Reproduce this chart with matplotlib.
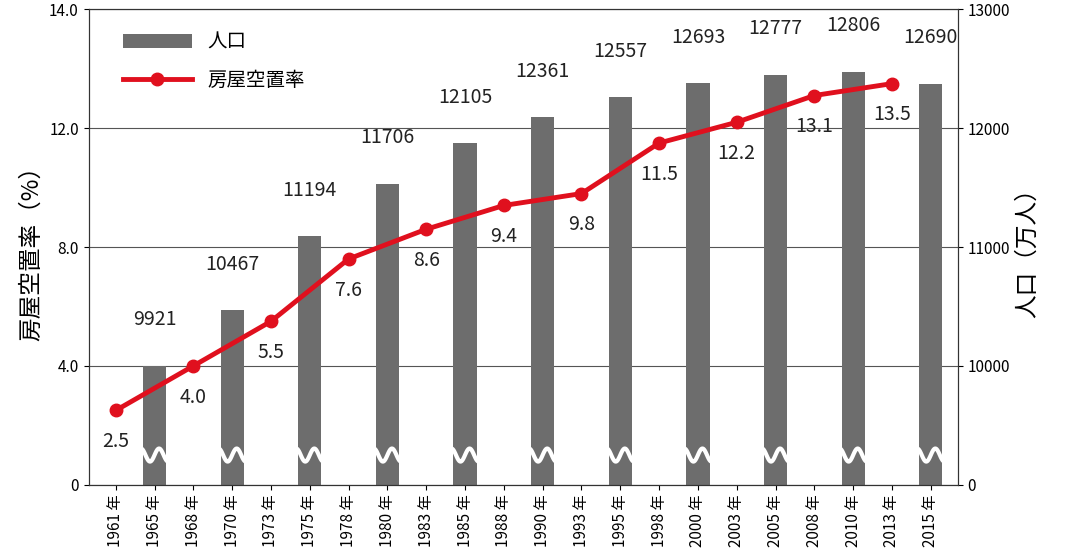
import matplotlib
matplotlib.use("Agg")
import matplotlib.pyplot as plt
import numpy as np
plt.rcParams['font.family'] = ['Noto Sans CJK JP', 'DejaVu Sans']

years = ["1961","1965","1968","1970","1973","1975","1978","1980","1983","1985",
         "1988","1990","1993","1995","1998","2000","2003","2005","2008","2010","2013","2015"]
bar_years = ["1965","1970","1975","1980","1985","1990","1995","2000","2005","2010","2015"]
population = [9921,10467,11194,11706,12105,12361,12557,12693,12777,12806,12690]
rate_years = ["1961","1968","1973","1978","1983","1988","1993","1998","2003","2008","2013"]
vacancy = [2.5,4.0,5.5,7.6,8.6,9.4,9.8,11.5,12.2,13.1,13.5]
left_ticks = ["0","4.0","8.0","12.0","14.0"]
right_ticks = ["0","10000","11000","12000","13000"]

def pop_to_axis(p):
    # broken (compressed) bar scale as drawn in the original
    return 4 + (p - 9921) * 0.00343

fig = plt.figure(figsize=(10.8, 5.49), dpi=100)
ax = fig.add_axes([0.082, 0.117, 0.805, 0.866])
idx = {y: i for i, y in enumerate(years)}
bx = [idx[y] for y in bar_years]
bh = [pop_to_axis(p) for p in population]
ax.bar(bx, bh, width=0.6, color='#6d6d6d', zorder=2, label='人口')
for x, h, p in zip(bx, bh, population):
    ax.text(x, h + 1.55, str(p), ha='center', va='center', fontsize=14, color='#222')
    t = np.linspace(-0.35, 0.35, 50)
    ax.plot(x + t, 1.0 + 0.22 * np.sin(t / 0.35 * np.pi * 1.5), color='white', lw=3, zorder=3)
rx = [idx[y] for y in rate_years]
ax.plot(rx, vacancy, color='#e0101e', lw=3.5, marker='o', ms=9, zorder=4, label='房屋空置率')
for x, v in zip(rx, vacancy):
    ax.text(x, v - 1.05, f"{v:.1f}", ha='center', va='center', fontsize=14, color='#222', zorder=5)
ax.set_xlim(-0.7, len(years) - 0.3)
ax.set_ylim(0, 16)
ax.set_yticks([0, 4, 8, 12, 16])
ax.set_yticklabels(left_ticks, fontsize=11)
ax.yaxis.grid(True, color='#555', lw=0.8, zorder=0)
ax.set_axisbelow(True)
ax.set_xticks(range(len(years)))
ax.set_xticklabels([y + " 年" for y in years], rotation=90, fontsize=11)
ax.set_ylabel("房屋空置率（%）", fontsize=17)
ax2 = ax.twinx()
ax2.set_ylim(0, 16)
ax2.set_yticks([0, 4, 8, 12, 16])
ax2.set_yticklabels(right_ticks, fontsize=11)
ax2.set_ylabel("人口（万人）", fontsize=17)
h, l = ax.get_legend_handles_labels()
order = [l.index('人口'), l.index('房屋空置率')]
ax.legend([h[i] for i in order], [l[i] for i in order], loc='upper left',
          bbox_to_anchor=(0.02, 0.99), frameon=False, fontsize=14, handlelength=3.5,
          labelspacing=0.9)
for a in (ax, ax2):
    for s in a.spines.values():
        s.set_color('#333')
fig.savefig("out.png", dpi=100)
